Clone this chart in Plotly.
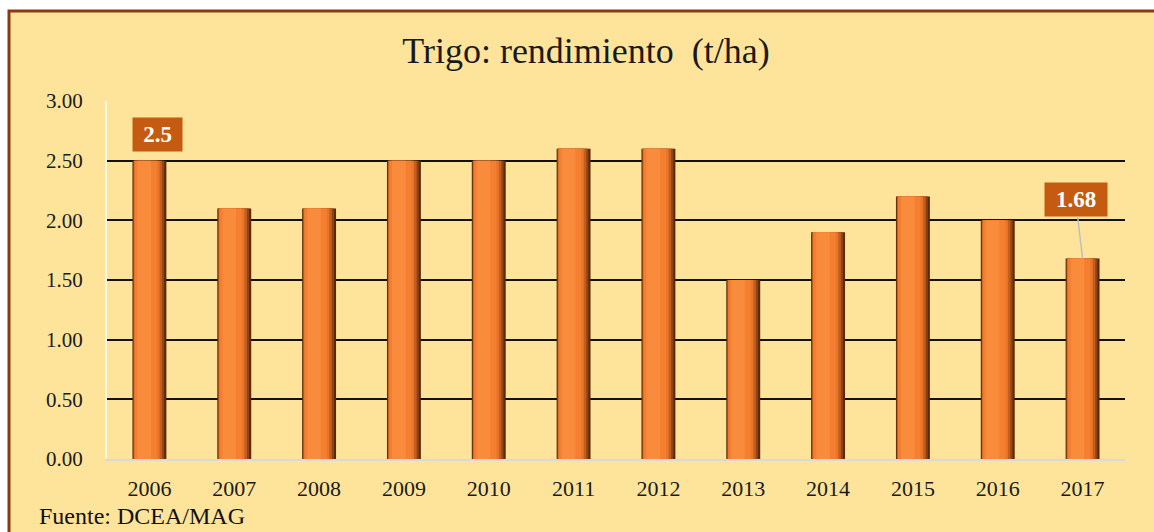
import plotly.graph_objects as go

years = ["2006", "2007", "2008", "2009", "2010", "2011", "2012", "2013", "2014", "2015", "2016", "2017"]
rendimiento = [2.5, 2.1, 2.1, 2.5, 2.5, 2.6, 2.6, 1.5, 1.9, 2.2, 2.0, 1.68]
y_ticks = [0, 0.5, 1.0, 1.5, 2.0, 2.5, 3.0]
title_text = "Trigo: rendimiento  (t/ha)"
source_text = "Fuente: DCEA/MAG"

W, H = 1154, 532
L, R, T, B = 107, 29, 101, 73
pw, ph = W - L - R, H - T - B

def px_x(p):
    return (p - L) / pw

def px_y(p):
    return (H - B - p) / ph

serif = "Liberation Serif, Times New Roman, serif"

fig = go.Figure()
# cylinder-like bars via overlaid layers (left edge, right edge relative to category centre)
layers = [
    (-0.200, 0.200, "#5A2A0A"),
    (-0.190, 0.175, "#8E4414"),
    (-0.185, 0.150, "#C25E1E"),
    (-0.180, 0.120, "#E8752A"),
    (-0.170, 0.090, "#F47F30"),
    (-0.140, 0.020, "#F98B3C"),
]
for lft, rgt, c in layers:
    fig.add_trace(go.Bar(
        x=list(range(len(years))), y=rendimiento, width=rgt - lft, offset=lft,
        marker=dict(color=c, line=dict(width=0)), hoverinfo="skip", showlegend=False,
    ))

fig.update_layout(
    barmode="overlay",
    width=W, height=H,
    margin=dict(l=L, r=R, t=T, b=B, autoexpand=False),
    paper_bgcolor="white",
    plot_bgcolor="rgba(0,0,0,0)",
    font=dict(family=serif, color="#1a1a1a"),
    title=dict(text=title_text, x=586 / W, xanchor="center", xref="container",
               y=1 - 50 / H, yanchor="middle",
               font=dict(family=serif, size=36, color="#1a1a1a")),
    xaxis=dict(
        tickmode="array", tickvals=list(range(len(years))), ticktext=years,
        range=[-0.5, len(years) - 0.5],
        showline=True, linecolor="#D9D9D9", linewidth=2,
        showgrid=False, zeroline=False,
        ticks="outside", ticklen=9, tickcolor="rgba(0,0,0,0)",
        tickfont=dict(family=serif, size=22, color="#1a1a1a"),
    ),
    yaxis=dict(
        range=[0, 3.0], tickvals=y_ticks, tickformat=".2f",
        showgrid=True, gridcolor="#111111", gridwidth=1.6,
        zeroline=False, showline=True, linecolor="#FFF7E0", linewidth=2,
        ticks="outside", ticklen=18, tickcolor="rgba(0,0,0,0)",
        tickfont=dict(family=serif, size=21, color="#1a1a1a"),
    ),
    shapes=[
        dict(type="rect", xref="paper", yref="paper",
             x0=px_x(9), x1=px_x(1170), y0=px_y(545), y1=px_y(11),
             fillcolor="#FDE49A", line=dict(color="#8B3A0F", width=3), layer="below"),
    ],
    annotations=[
        dict(text=source_text, xref="paper", yref="paper", x=px_x(37), y=px_y(516),
             xanchor="left", yanchor="middle", showarrow=False,
             font=dict(family=serif, size=24, color="#111111")),
        dict(text="<b>2.5</b>", x=0, y=rendimiento[0], xref="x", yref="y",
             xshift=8, yshift=26, showarrow=False, bgcolor="#C55A11",
             borderpad=5, width=39, height=23,
             font=dict(family=serif, size=23, color="white")),
        dict(text="<b>1.68</b>", x=11, y=rendimiento[11], xref="x", yref="y",
             ax=-7, ay=-59, showarrow=True, arrowhead=0, arrowcolor="#BFBFBF",
             arrowwidth=1.5, bgcolor="#C55A11", borderpad=5, width=52, height=23,
             standoff=0, font=dict(family=serif, size=23, color="white")),
    ],
)

fig.write_html("out.html", config={"displayModeBar": False},
               post_script="document.body.style.margin='0px';")
